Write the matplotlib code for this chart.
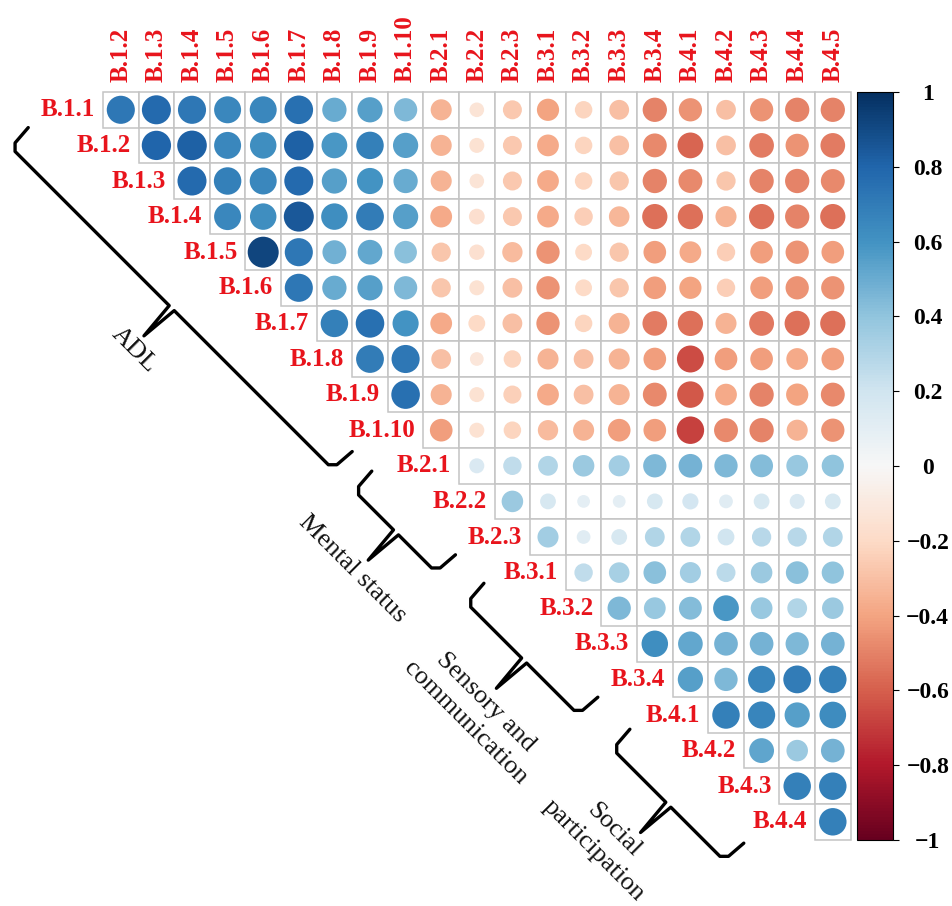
import numpy as np
import matplotlib.pyplot as plt
from matplotlib.patches import Circle, Rectangle, PathPatch
from matplotlib.path import Path
from matplotlib.colors import Normalize
from matplotlib.cm import ScalarMappable

plt.rcParams['font.family'] = ['Liberation Serif', 'DejaVu Serif']

variables = ['B.1.1', 'B.1.2', 'B.1.3', 'B.1.4', 'B.1.5', 'B.1.6', 'B.1.7', 'B.1.8',
             'B.1.9', 'B.1.10', 'B.2.1', 'B.2.2', 'B.2.3', 'B.3.1', 'B.3.2', 'B.3.3',
             'B.3.4', 'B.4.1', 'B.4.2', 'B.4.3', 'B.4.4', 'B.4.5']

# upper triangle, each row starts at the next variable
r_b11 = [0.72, 0.78, 0.72, 0.65, 0.65, 0.75, 0.50, 0.55, 0.45, -0.35, -0.14, -0.27, -0.40,
         -0.22, -0.30, -0.50, -0.45, -0.30, -0.45, -0.50, -0.50]
r_b12 = [0.80, 0.82, 0.65, 0.62, 0.82, 0.58, 0.68, 0.55, -0.35, -0.15, -0.27, -0.38, -0.22,
         -0.30, -0.48, -0.58, -0.30, -0.52, -0.45, -0.52]
r_b13 = [0.78, 0.68, 0.65, 0.78, 0.55, 0.60, 0.50, -0.35, -0.14, -0.27, -0.38, -0.22, -0.28,
         -0.50, -0.48, -0.28, -0.50, -0.50, -0.48]
r_b14 = [0.65, 0.62, 0.85, 0.62, 0.70, 0.55, -0.38, -0.17, -0.27, -0.38, -0.25, -0.33, -0.55,
         -0.55, -0.35, -0.55, -0.50, -0.55]
r_b15 = [0.92, 0.72, 0.48, 0.52, 0.42, -0.28, -0.16, -0.32, -0.45, -0.20, -0.28, -0.42,
         -0.38, -0.25, -0.42, -0.45, -0.42]
r_b16 = [0.72, 0.50, 0.55, 0.45, -0.28, -0.15, -0.30, -0.45, -0.20, -0.28, -0.42, -0.40,
         -0.25, -0.42, -0.45, -0.45]
r_b17 = [0.68, 0.75, 0.60, -0.38, -0.20, -0.30, -0.45, -0.22, -0.35, -0.52, -0.55, -0.35,
         -0.53, -0.55, -0.55]
r_b18 = [0.70, 0.72, -0.30, -0.12, -0.22, -0.35, -0.30, -0.35, -0.42, -0.65, -0.42, -0.42,
         -0.38, -0.42]
r_b19 = [0.75, -0.35, -0.15, -0.24, -0.38, -0.30, -0.35, -0.48, -0.62, -0.38, -0.50, -0.40,
         -0.48]
r_b110 = [-0.42, -0.15, -0.22, -0.32, -0.35, -0.42, -0.42, -0.68, -0.48, -0.50, -0.35, -0.45]
r_b21 = [0.15, 0.25, 0.30, 0.37, 0.35, 0.45, 0.47, 0.45, 0.43, 0.38, 0.40]
r_b22 = [0.37, 0.17, 0.10, 0.10, 0.17, 0.18, 0.12, 0.17, 0.15, 0.17]
r_b23 = [0.35, 0.12, 0.17, 0.30, 0.30, 0.20, 0.28, 0.28, 0.30]
r_b31 = [0.25, 0.33, 0.42, 0.35, 0.27, 0.37, 0.42, 0.40]
r_b32 = [0.45, 0.38, 0.43, 0.58, 0.38, 0.30, 0.37]
r_b33 = [0.62, 0.52, 0.47, 0.47, 0.45, 0.47]
r_b34 = [0.55, 0.45, 0.66, 0.70, 0.68]
r_b41 = [0.68, 0.66, 0.55, 0.63]
r_b42 = [0.53, 0.37, 0.47]
r_b43 = [0.68, 0.68]
r_b44 = [0.68]

rows = [r_b11, r_b12, r_b13, r_b14, r_b15, r_b16, r_b17, r_b18, r_b19, r_b110,
        r_b21, r_b22, r_b23, r_b31, r_b32, r_b33, r_b34, r_b41, r_b42, r_b43, r_b44]

groups = ['ADL', 'Mental status', 'Sensory and\ncommunication', 'Social\nparticipation']

cbar_ticks = [-1, -0.8, -0.6, -0.4, -0.2, 0, 0.2, 0.4, 0.6, 0.8, 1]
cbar_labels = ['\u22121', '\u22120.8', '\u22120.6', '\u22120.4', '\u22120.2', '0',
               '0.2', '0.4', '0.6', '0.8', '1']

# brace layout along the diagonal (t = along, s = across)
brace_spans = [(-1.05, 8.05), (8.6, 10.95), (11.75, 14.95), (15.85, 19.05)]
brace_tips = [3.5, 9.8, 13.4, 17.45]
label_t = [3.55, 9.7, 13.45, 17.05]

red = '#e8141c'
cmap = plt.get_cmap('RdBu')
norm = Normalize(-1, 1)

fig = plt.figure(figsize=(9.52, 9.06), dpi=100)
ax = fig.add_axes([0, 0, 1, 1])
cell = 35.6
x0 = -0.5 - 103 / cell
y0 = -0.5 - 92 / cell
ax.set_xlim(x0, x0 + 952 / cell)
ax.set_ylim(y0 + 906 / cell, y0)
ax.axis('off')

for i, row in enumerate(rows):
    for k, v in enumerate(row):
        j = i + k
        ax.add_patch(Rectangle((j - 0.5, i - 0.5), 1, 1, facecolor='white',
                               edgecolor='#c4c4c4', lw=1.1, zorder=1))
        ax.add_patch(Circle((j, i), 0.45 * abs(v) ** 0.4, facecolor=cmap(norm(v)),
                            edgecolor='none', zorder=2))
    ax.text(i - 0.72, i, variables[i], ha='right', va='center', color=red,
            fontsize=18, fontweight='bold')

for j in range(len(rows)):
    ax.text(j, -0.78, variables[j + 1], rotation=90, ha='center', va='bottom',
            color=red, fontsize=18, fontweight='bold')


def ts(t, s):
    return (t + s, t - s)


for (t0, t1), tm, tl, name in zip(brace_spans, brace_tips, label_t, groups):
    pts = [(t0, -1.55), (t0 + 0.03, -1.95), (t0 + 0.15, -2.07), (tm - 0.07, -2.07),
           (tm, -2.85), (tm + 0.07, -2.07), (t1 - 0.15, -2.07), (t1 - 0.03, -1.95),
           (t1, -1.55)]
    path = Path([ts(t, s) for t, s in pts])
    ax.add_patch(PathPatch(path, facecolor='none', edgecolor='black', lw=2.4,
                           capstyle='round', joinstyle='round', zorder=3))
    ax.text(*ts(tl, -2.97), name, rotation=-45, rotation_mode='anchor', ha='center',
            va='top', fontsize=19, linespacing=1.4, color='#111111')

cax = fig.add_axes([857 / 952, (906 - 840) / 906, 36 / 952, 748 / 906])
cb = fig.colorbar(ScalarMappable(norm=norm, cmap=cmap), cax=cax, ticks=cbar_ticks)
cb.ax.set_yticklabels(cbar_labels)
cb.outline.set_linewidth(0.8)
cb.ax.tick_params(length=4, width=0.8, pad=21, labelsize=17)
for lab in cb.ax.get_yticklabels():
    lab.set_horizontalalignment('center')
    lab.set_fontweight('bold')

fig.savefig('out.png', dpi=100)
